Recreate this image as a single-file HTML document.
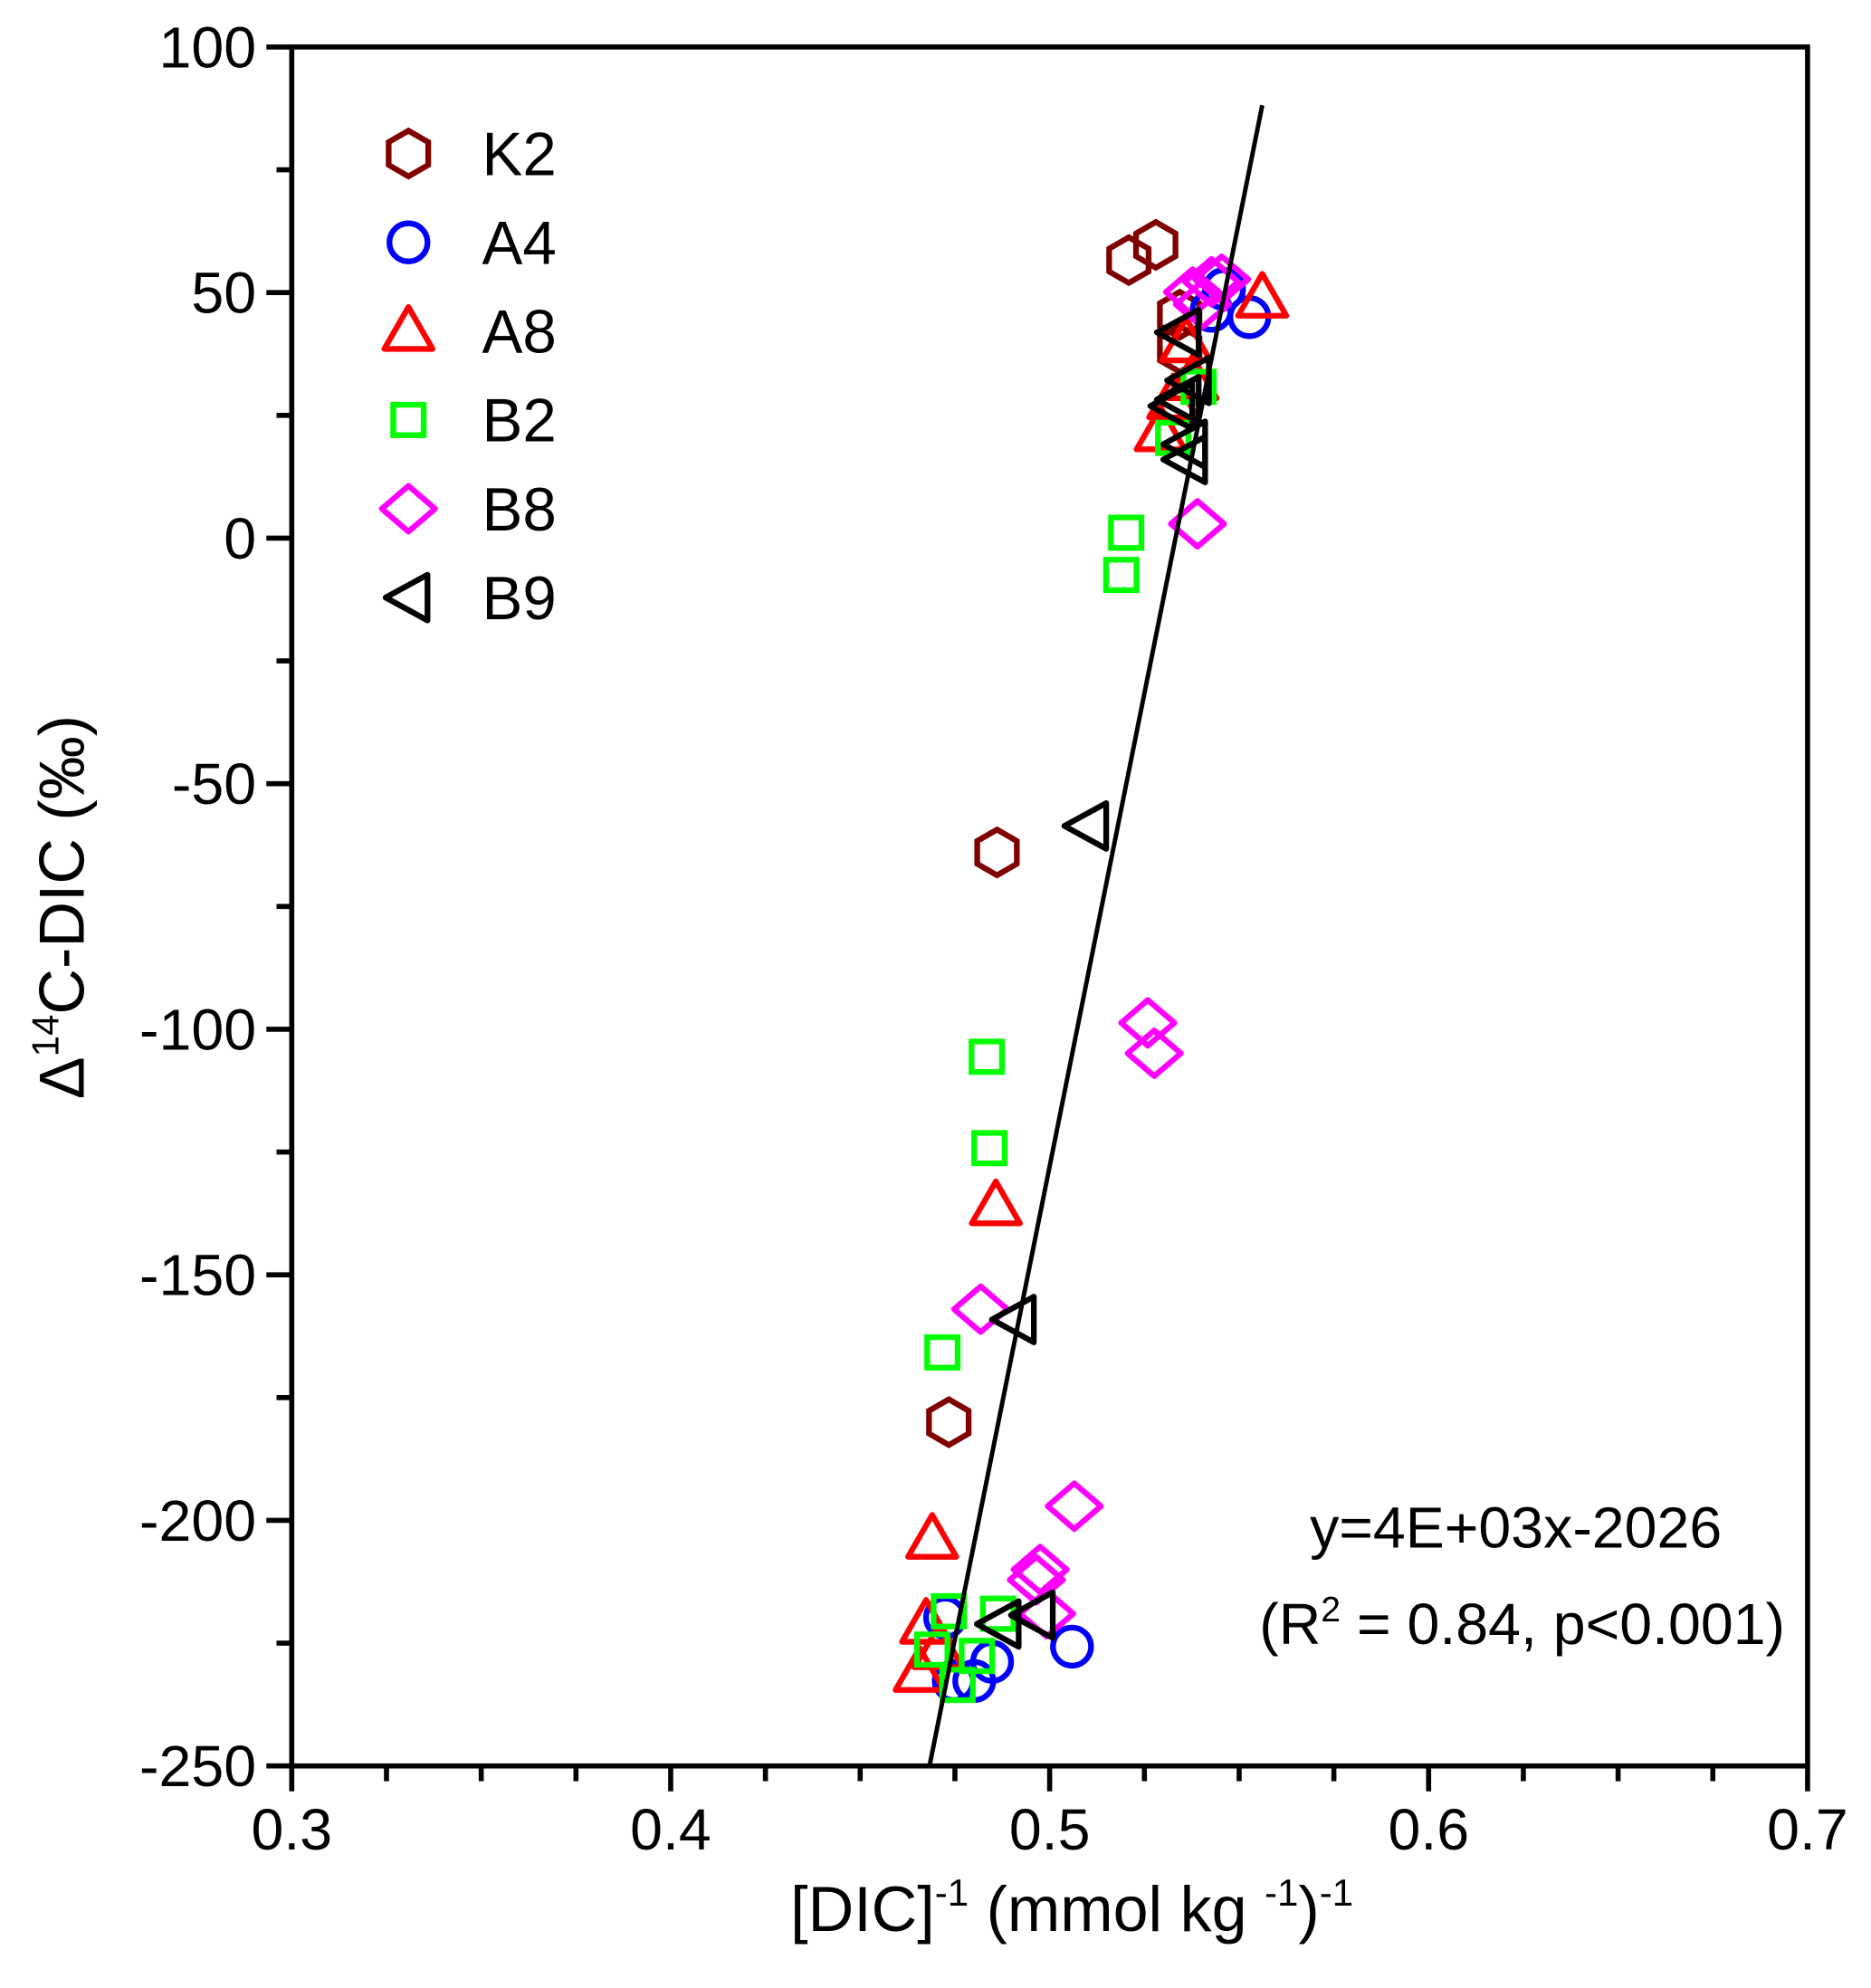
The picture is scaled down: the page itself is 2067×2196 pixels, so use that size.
<!DOCTYPE html>
<html><head><meta charset="utf-8"><style>
html,body{margin:0;padding:0;background:#fff;}
svg{display:block;font-family:"Liberation Sans Narrow","Liberation Sans",Arial,sans-serif;}
</style></head><body>
<svg id="chart" width="2067" height="2196" viewBox="0 0 1475 1567" xmlns="http://www.w3.org/2000/svg">
<rect x="0" y="0" width="1475" height="1567" fill="#fff"/>
<g id="marks"></g>
<g id="axes"></g>
<text x="1195" y="1220" font-size="46" text-anchor="middle">y=4E+03x-2026</text>
<text x="1200" y="1296" font-size="46" text-anchor="middle">(R<tspan font-size="28" dy="-18">2</tspan><tspan dy="18"> = 0.84, p&lt;0.001)</tspan></text>
<text x="845" y="1522" font-size="50" text-anchor="middle">[DIC]<tspan font-size="30" dy="-20">-1</tspan><tspan dy="20"> (mmol kg </tspan><tspan font-size="30" dy="-20">-1</tspan><tspan dy="20">)</tspan><tspan font-size="30" dy="-20">-1</tspan></text>
<text transform="translate(66,715) rotate(-90)" font-size="50" text-anchor="middle">Δ<tspan font-size="30" dy="-20">14</tspan><tspan dy="20">C-DIC (‰)</tspan></text>
</svg>
<script>
const xTicks=[0.3,0.4,0.5,0.6,0.7];
const yTicks=[100,50,0,-50,-100,-150,-200,-250];
const seriesNames=["K2","A4","A8","B2","B8","B9"];
const k2X=[0.5209,0.5280,0.4861,0.4734,0.5343,0.5343];
const k2Y=[56.6,59.7,-64.0,-180.0,45.5,38.5];
const a4X=[0.5527,0.5460,0.5427,0.4724,0.4747,0.4801,0.4848,0.5059];
const a4Y=[45.0,50.7,46.3,-219.8,-232.7,-232.7,-228.8,-225.7];
const a8X=[0.5561,0.5377,0.5326,0.5293,0.4858,0.4690,0.4674,0.4657,0.4707,0.5360];
const a8Y=[48.9,32.1,28.2,21.7,-135.9,-203.8,-221.1,-230.9,-226.3,39.8];
const b2X=[0.5202,0.5189,0.4834,0.4841,0.4717,0.4734,0.4864,0.4690,0.4757,0.4808,0.5326,0.5393];
const b2Y=[1.1,-7.5,-105.6,-124.2,-165.8,-218.5,-219.0,-226.3,-233.5,-227.6,20.4,30.8];
const b8X=[0.5390,0.5259,0.5276,0.4818,0.5065,0.4975,0.4965,0.4992,0.5377,0.5427,0.5454,0.5403];
const b8Y=[2.9,-98.7,-104.9,-157.0,-197.1,-210.0,-212.1,-219.0,50.1,52.2,52.7,47.6];
const b9X=[0.5099,0.4908,0.4868,0.4958,0.5343,0.5370,0.5343,0.5360,0.5360,0.5326];
const b9Y=[-58.6,-159.1,-221.1,-219.3,41.9,32.1,28.2,19.1,16.0,26.9];
const fitSlope=3851, fitIntercept=-2053.4, fitXRange=[0.4683,0.5561];

const L=230,R=1425,T=37,B=1392;
const sx=v=>L+(v-0.3)/0.4*(R-L);
const sy=v=>T+(100-v)/350*(B-T);
const NS="http://www.w3.org/2000/svg";
function mk(tag,attrs,parent){const e=document.createElementNS(NS,tag);for(const k in attrs)e.setAttribute(k,attrs[k]);parent.appendChild(e);return e;}
const marks=document.getElementById('marks'), axes=document.getElementById('axes');

function shape(type,cx,cy,color,parent){
  let e;const sw=4.5;
  if(type==='hex'){const r=18;let p=[];for(let i=0;i<6;i++){const a=-Math.PI/2+i*Math.PI/3;p.push((cx+r*Math.cos(a)).toFixed(1)+','+(cy+r*Math.sin(a)).toFixed(1));}
    e=mk('polygon',{points:p.join(' '),fill:'none',stroke:color,'stroke-width':sw},parent);}
  else if(type==='circle'){e=mk('circle',{cx:cx,cy:cy,r:15,fill:'none',stroke:color,'stroke-width':sw},parent);}
  else if(type==='tri'){e=mk('polygon',{points:`${cx},${cy-19} ${cx+19},${cy+14} ${cx-19},${cy+14}`,fill:'none',stroke:color,'stroke-width':sw,'stroke-linejoin':'round'},parent);}
  else if(type==='sq'){e=mk('rect',{x:cx-12,y:cy-12,width:24,height:24,fill:'none',stroke:color,'stroke-width':sw},parent);}
  else if(type==='dia'){e=mk('polygon',{points:`${cx},${cy-18} ${cx+21},${cy} ${cx},${cy+18} ${cx-21},${cy}`,fill:'none',stroke:color,'stroke-width':sw,'stroke-linejoin':'round'},parent);}
  else {e=mk('polygon',{points:`${cx-18},${cy} ${cx+15},${cy-18} ${cx+15},${cy+18}`,fill:'none',stroke:color,'stroke-width':sw,'stroke-linejoin':'round'},parent);}
  return e;
}
const series=[
 {name:'k2',type:'hex',color:'#800000',xs:k2X,ys:k2Y},
 {name:'a4',type:'circle',color:'#0000ff',xs:a4X,ys:a4Y},
 {name:'a8',type:'tri',color:'#ff0000',xs:a8X,ys:a8Y},
 {name:'b2',type:'sq',color:'#00ff00',xs:b2X,ys:b2Y},
 {name:'b8',type:'dia',color:'#ff00ff',xs:b8X,ys:b8Y},
 {name:'b9',type:'left',color:'#000000',xs:b9X,ys:b9Y}
];
series.forEach(s=>{
  const g=mk('g',{},marks);
  
  
  s.xs.forEach((x,i)=>{
    const e=shape(s.type,sx(x),sy(s.ys[i]),s.color,g);
    
    
  });
});
const fl=mk('line',{x1:sx(fitXRange[0]),y1:sy(fitSlope*fitXRange[0]+fitIntercept),x2:sx(fitXRange[1]),y2:sy(fitSlope*fitXRange[1]+fitIntercept),stroke:'#000','stroke-width':3.5},marks);



const lg=mk('g',{},marks);


series.forEach((s,i)=>{
  const y=121+i*70;
  const m=shape(s.type,322,y,s.color,lg);
  
  
  const t=mk('text',{x:380,y:y+17,'font-size':48},lg);
  t.textContent=seriesNames[i];
  
  
});

const fr=mk('rect',{x:L,y:T,width:R-L,height:B-T,fill:'none',stroke:'#000','stroke-width':4},axes);


for(let v=0.3;v<=0.7001;v+=0.025){
  const major=Math.abs(v*10-Math.round(v*10))<1e-6;
  const t=mk('line',{x1:sx(v),y1:B,x2:sx(v),y2:B+(major?20:12),stroke:'#000','stroke-width':4},axes);
  
  
}
xTicks.forEach(v=>{
  const t=mk('text',{x:sx(v),y:B+66,'font-size':46,'text-anchor':'middle'},axes);
  t.textContent=v.toFixed(1);
  
  
});
for(let v=-250;v<=100;v+=25){
  const major=v%50===0;
  const t=mk('line',{x1:L,y1:sy(v),x2:L-(major?20:12),y2:sy(v),stroke:'#000','stroke-width':4},axes);
  
  
}
yTicks.forEach(v=>{
  const t=mk('text',{x:L-28,y:sy(v)+16,'font-size':46,'text-anchor':'end'},axes);
  t.textContent=String(v);
  
  
});
</script>
</body></html>
